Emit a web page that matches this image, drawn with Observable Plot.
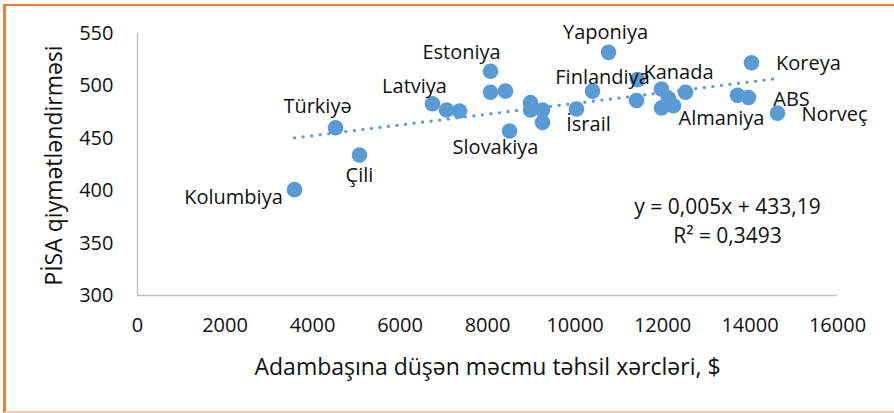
<!DOCTYPE html>
<html>
<head>
<meta charset="utf-8">
<script src="https://cdn.jsdelivr.net/npm/d3@7"></script>
<script src="https://cdn.jsdelivr.net/npm/@observablehq/plot@0.6"></script>
<style>
  html, body { margin: 0; padding: 0; background: #fff; overflow: hidden; }
  #wrap { position: relative; width: 894px; height: 413px; overflow: hidden; }
  #frame { position: absolute; left: 3px; top: 4px; width: 891px; height: 409px;
    border-top: 2px solid #ED7D31; border-left: 3px solid #ED7D31; border-bottom: 2px solid #F8CBAD;
    border-right: none; box-sizing: border-box; pointer-events: none; }
  svg { font-family: "Open Sans", sans-serif; display: block; }
</style>
</head>
<body>
<div id="wrap"><div id="frame"></div></div>
<script>
// Spending per student ($) and PISA score
const spending = [3589, 4526, 5074, 6743, 7063, 7360, 8069, 8069, 8411, 8503, 8983, 8983, 9257, 9257,
  10034, 10400, 10766, 11429, 11406, 11977, 11977, 12137, 12251, 12526, 13714, 13966, 14034, 14629];
const pisa = [401, 460, 434, 483, 477, 476, 514, 494, 495, 457, 484, 477, 477, 465,
  478, 495, 532, 506, 486, 497, 479, 488, 481, 494, 491, 489, 522, 474];
const countries = ["Kolumbiya", "Türkiyə", "Çili", "Latviya", "", "", "Estoniya", "", "", "Slovakiya", "", "", "", "",
  "İsrail", "Finlandiya", "Yaponiya", "", "", "Kanada", "", "", "Almaniya", "", "", "ABS", "Koreya", "Norveç"];
const xTicks = [0, 2000, 4000, 6000, 8000, 10000, 12000, 14000, 16000];
const yTicks = [300, 350, 400, 450, 500, 550];
const equationText = "y = 0,005x + 433,19";
const r2Text = "R² = 0,3493";
const xTitle = "Adambaşına düşən məcmu təhsil xərcləri, $";
const yTitle = "PİSA qiymətləndirməsi";

// label placement (pixel offsets from the point), styling only
const labelOffset = {
  "Kolumbiya": [-61, 8], "Türkiyə": [-18, -21], "Çili": [0, 21], "Latviya": [-18, -17],
  "Estoniya": [-29, -19], "Slovakiya": [-14, 17], "İsrail": [12, 16], "Finlandiya": [10, -14],
  "Yaponiya": [-3, -20], "Kanada": [17, -16], "Almaniya": [48, 13], "ABS": [43, 2],
  "Koreya": [57, 1], "Norveç": [57, 1]
};

const data = spending.map((x, i) => ({x, y: pisa[i], name: countries[i]}));
const labelled = data.filter(d => d.name);

const blue = "#5B9BD5";
const ink = "#111111";

const chart = Plot.plot({
  width: 894,
  height: 413,
  marginLeft: 137,
  marginRight: 57,
  marginTop: 33,
  marginBottom: 118,
  style: {fontFamily: "Open Sans, sans-serif", fontSize: "20px", color: ink, background: "transparent"},
  x: {domain: [0, 16000], ticks: xTicks},
  y: {domain: [300, 550], ticks: yTicks},
  marks: [
    Plot.ruleX([0], {stroke: "#bfbfbf", strokeWidth: 1.5}),
    Plot.ruleY([300], {stroke: "#bfbfbf", strokeWidth: 1.5}),
    Plot.axisX({ticks: xTicks, tickSize: 0, tickPadding: 22, tickFormat: d => String(d), fontSize: 20, fill: ink, label: null}),
    Plot.axisY({ticks: yTicks, tickSize: 0, tickPadding: 24, tickFormat: d => String(d), fontSize: 20, fill: ink, label: null}),
    Plot.linearRegressionY(data, {x: "x", y: "y", ci: 0, stroke: blue, strokeWidth: 3.2,
      strokeDasharray: "0.1 8.5", strokeLinecap: "round"}),
    Plot.dot(data, {x: "x", y: "y", r: 7.8, fill: blue, stroke: "none"}),
    ...labelled.map(d => Plot.text([d], {x: "x", y: "y", text: "name",
      dx: labelOffset[d.name][0], dy: labelOffset[d.name][1], fontSize: 20, fill: ink})),
    Plot.text([equationText], {frameAnchor: "bottom-right", dx: -110, dy: -88, textAnchor: "middle", lineAnchor: "middle", fontSize: 21, fill: ink}),
    Plot.text([r2Text], {frameAnchor: "bottom-right", dx: -110, dy: -59, textAnchor: "middle", lineAnchor: "middle", fontSize: 21, fill: ink}),
    Plot.text([xTitle], {frameAnchor: "bottom", dy: 72, textAnchor: "middle", lineAnchor: "middle", fontSize: 23, fill: ink}),
    Plot.text([yTitle], {frameAnchor: "left", dx: -83, dy: 1, rotate: -90, textAnchor: "middle", lineAnchor: "middle", fontSize: 23, fill: ink})
  ]
});
document.getElementById("wrap").prepend(chart);
</script>
</body>
</html>
